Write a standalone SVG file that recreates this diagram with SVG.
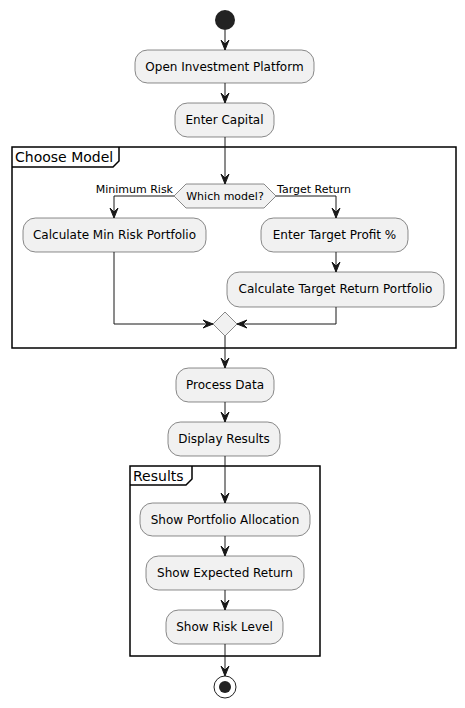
<svg xmlns="http://www.w3.org/2000/svg" width="465" height="708" viewBox="0 0 465 708">
<style>
.box{fill:#F1F1F1;stroke:#181818;stroke-width:0.5}
.t{font-family:"DejaVu Sans",sans-serif;font-size:12px;fill:#000;text-anchor:middle}
.lbl{font-family:"DejaVu Sans",sans-serif;font-size:11px;fill:#000}
.ft{font-family:"DejaVu Sans",sans-serif;font-size:14px;fill:#000}
.frame{fill:none;stroke:#000;stroke-width:1.5}
.e{fill:none;stroke:#181818;stroke-width:1}
.ah{fill:#181818;stroke:#181818;stroke-width:1}
</style>
<rect width="465" height="708" fill="#FFFFFF"/>
<g id="frame-choose">
<rect class="frame" x="12" y="147" width="444" height="201"/>
<path class="frame" d="M12,167 H113 L119,161 V147"/>
<text class="ft" x="15" y="162">Choose Model</text>
</g>
<g id="frame-results">
<rect class="frame" x="130" y="466" width="190" height="190"/>
<path class="frame" d="M130,485 H186 L192,479 V466"/>
<text class="ft" x="133" y="481">Results</text>
</g>
<g id="connectors">
<path class="e" d="M225,30 V50"/>
<path class="ah" d="M221,40 L225,50 L229,40 L225,44 Z"/>
<path class="e" d="M225,83 V103"/>
<path class="ah" d="M221,93 L225,103 L229,93 L225,97 Z"/>
<path class="e" d="M225,137 V184"/>
<path class="ah" d="M221,174 L225,184 L229,174 L225,178 Z"/>
<path class="e" d="M174,196 H114 V218"/>
<path class="ah" d="M110,208 L114,218 L118,208 L114,212 Z"/>
<path class="e" d="M276,196 H336 V218"/>
<path class="ah" d="M332,208 L336,218 L340,208 L336,212 Z"/>
<path class="e" d="M336,252 V272"/>
<path class="ah" d="M332,262 L336,272 L340,262 L336,266 Z"/>
<path class="e" d="M114,252 V324 H213"/>
<path class="ah" d="M203,320 L213,324 L203,328 L207,324 Z"/>
<path class="e" d="M336,307 V324 H237"/>
<path class="ah" d="M247,320 L237,324 L247,328 L243,324 Z"/>
<path class="e" d="M225,336 V368"/>
<path class="ah" d="M221,358 L225,368 L229,358 L225,362 Z"/>
<path class="e" d="M225,402 V422"/>
<path class="ah" d="M221,412 L225,422 L229,412 L225,416 Z"/>
<path class="e" d="M225,456 V503"/>
<path class="ah" d="M221,493 L225,503 L229,493 L225,497 Z"/>
<path class="e" d="M225,536 V556"/>
<path class="ah" d="M221,546 L225,556 L229,546 L225,550 Z"/>
<path class="e" d="M225,590 V610"/>
<path class="ah" d="M221,600 L225,610 L229,600 L225,604 Z"/>
<path class="e" d="M225,644 V676"/>
<path class="ah" d="M221,666 L225,676 L229,666 L225,670 Z"/>
<text class="lbl" x="173" y="193" text-anchor="end">Minimum Risk</text>
<text class="lbl" x="277" y="193">Target Return</text>
</g>
<g id="start"><circle cx="225" cy="20" r="10" fill="#222222"/></g>
<g id="open"><rect class="box" x="135" y="50" width="179" height="33" rx="12.5"/><text class="t" x="224.5" y="71">Open Investment Platform</text></g>
<g id="capital"><rect class="box" x="175" y="103" width="99" height="34" rx="12.5"/><text class="t" x="224.5" y="124">Enter Capital</text></g>
<g id="decision"><polygon class="box" points="174,196 186,184 264,184 276,196 264,208 186,208"/><text class="lbl" x="225" y="200" text-anchor="middle">Which model?</text></g>
<g id="minrisk"><rect class="box" x="23" y="218" width="183" height="34" rx="12.5"/><text class="t" x="114.5" y="239">Calculate Min Risk Portfolio</text></g>
<g id="targetprofit"><rect class="box" x="261" y="218" width="147" height="34" rx="12.5"/><text class="t" x="334.5" y="239">Enter Target Profit %</text></g>
<g id="targetreturn"><rect class="box" x="227" y="272" width="217" height="35" rx="12.5"/><text class="t" x="335.5" y="293">Calculate Target Return Portfolio</text></g>
<g id="merge"><polygon class="box" points="213,324 225,312 237,324 225,336"/></g>
<g id="process"><rect class="box" x="176" y="368" width="98" height="34" rx="12.5"/><text class="t" x="225" y="389">Process Data</text></g>
<g id="display"><rect class="box" x="168" y="422" width="112" height="34" rx="12.5"/><text class="t" x="224" y="443">Display Results</text></g>
<g id="alloc"><rect class="box" x="140" y="503" width="170" height="33" rx="12.5"/><text class="t" x="225" y="524">Show Portfolio Allocation</text></g>
<g id="expected"><rect class="box" x="146" y="556" width="158" height="34" rx="12.5"/><text class="t" x="225" y="577">Show Expected Return</text></g>
<g id="risk"><rect class="box" x="166" y="610" width="117" height="34" rx="12.5"/><text class="t" x="224.5" y="631">Show Risk Level</text></g>
<g id="end"><circle cx="225" cy="687" r="11" fill="none" stroke="#222222" stroke-width="1"/><circle cx="225" cy="687" r="6" fill="#222222"/></g>
</svg>
